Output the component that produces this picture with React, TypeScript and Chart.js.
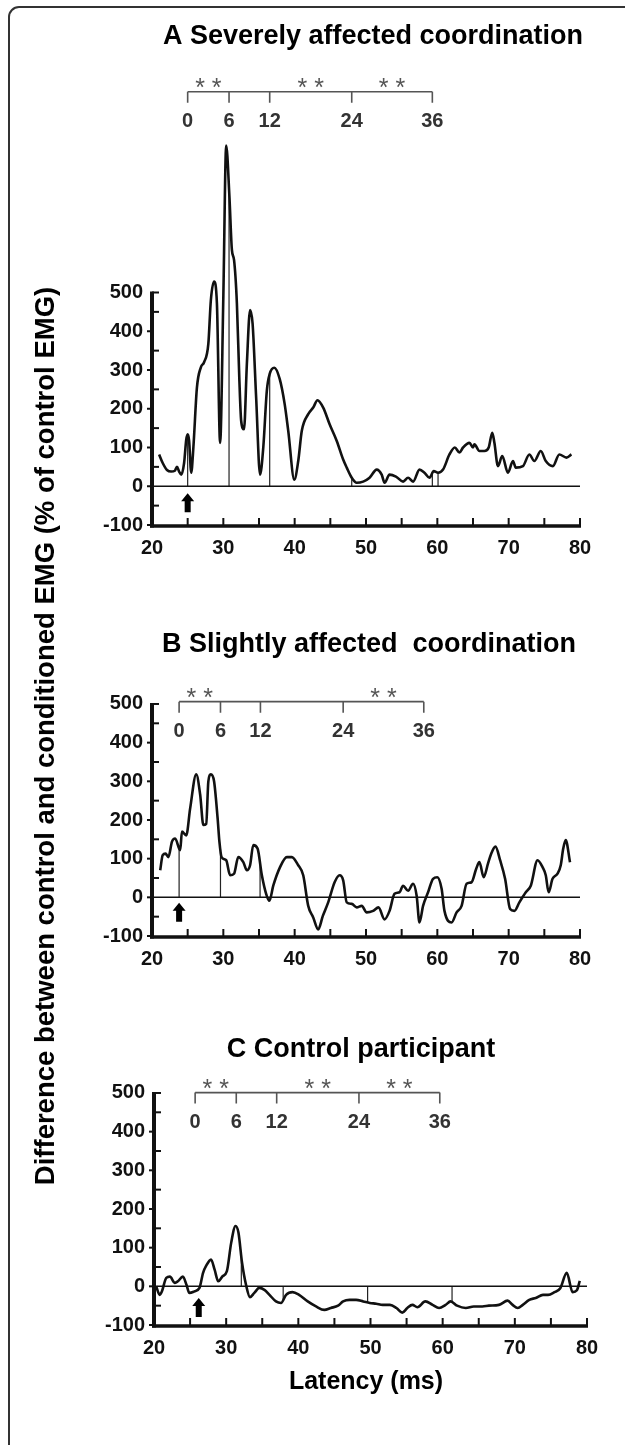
import React, { useEffect, useRef } from "react";
import { Chart, registerables } from "chart.js";

Chart.register(...registerables);

const FONT = '"Liberation Sans", Arial, Helvetica, sans-serif';

// ---- Panel A: severely affected coordination ----
const latencyA = [
  21.0, 21.5, 22.1, 22.7, 23.2, 23.5, 23.8, 24.1, 24.5, 24.8, 25.0, 25.2, 25.5, 25.8, 26.3, 26.85,
  27.3, 27.9, 28.25, 28.7, 29.1, 29.55, 30.0, 30.4, 30.85, 31.2, 31.5, 31.9, 32.25, 32.5, 32.9, 33.3,
  33.75, 34.1, 34.6, 35.15, 35.6, 36.1, 36.5, 37.15, 37.9, 38.6, 39.1, 39.95, 40.5, 41.0, 41.9, 42.6,
  43.2, 44.0, 44.9, 45.9, 46.8, 47.3, 48.0, 48.7, 49.6, 50.5, 51.5, 52.2, 52.6, 53.3, 54.2, 55.2,
  55.9, 56.6, 57.5, 58.2, 58.9, 59.5, 60.1, 60.8, 61.7, 62.45, 63.1, 63.6, 64.5, 65.0, 65.2, 65.9,
  66.6, 67.2, 67.7, 68.0, 68.5, 69.1, 69.9, 70.6, 71.0, 72.0, 72.9, 73.6, 74.5, 75.2, 76.2, 77.1,
  78.1, 78.8,
];
const emgA = [
  82, 60, 42, 38, 40, 50, 38, 30, 60, 120, 134, 118, 35, 100, 255, 307,
  320, 368, 480, 528, 472, 112, 489, 879, 749, 610, 584, 472, 273, 169, 147, 316,
  455, 420, 229, 30, 100, 247, 290, 306, 277, 212, 143, 17, 65, 143, 186, 203,
  222, 203, 160, 117, 69, 48, 22, 9, 12, 22, 43, 30, 9, 30, 25, 12,
  22, 12, 43, 35, 22, 39, 35, 43, 82, 100, 87, 100, 112, 100, 108, 91,
  91, 100, 138, 112, 52, 78, 35, 65, 48, 52, 82, 65, 91, 65, 52, 82,
  74, 82,
];
const markersA = [25.0, 30.8, 36.5, 48.0, 59.3, 60.1];
const windowA = [25.0, 30.8, 36.5, 48.0, 59.3];
const starsA = [[0, 1], [2, 3], [3, 4]];

// ---- Panel B: slightly affected coordination ----
const latencyB = [
  21.15, 21.5, 21.9, 22.3, 22.8, 23.25, 23.95, 24.2, 24.8, 25.35, 26.2, 26.75, 27.2, 27.6, 27.9, 28.25,
  28.7, 29.2, 29.45, 29.75, 30.4, 30.95, 31.5, 32.1, 32.8, 33.3, 33.75, 34.2, 34.8, 35.4, 36.0, 36.45,
  37.0, 37.95, 38.9, 39.6, 40.5, 41.2, 41.9, 42.6, 43.3, 43.95, 44.7, 45.6, 46.3, 46.8, 47.3, 48.0,
  48.7, 49.4, 50.1, 51.0, 51.75, 52.6, 53.3, 54.0, 54.7, 55.2, 55.9, 56.6, 57.1, 57.5, 58.0, 58.7,
  59.4, 60.0, 60.6, 61.0, 62.0, 62.7, 63.4, 64.1, 64.8, 65.45, 65.9, 66.5, 67.1, 67.55, 68.15, 68.8,
  69.5, 70.2, 70.8, 71.5, 72.4, 73.1, 74.05, 74.75, 75.2, 75.6, 76.15, 76.85, 77.3, 77.65, 78.0, 78.6,
];
const emgB = [
  70, 109, 113, 104, 144, 152, 122, 170, 160, 230, 318, 266, 187, 190, 300, 318,
  300, 204, 144, 104, 96, 57, 61, 104, 91, 70, 83, 135, 126, 57, 9, -9,
  30, 78, 104, 104, 83, 57, -22, -52, -83, -48, -13, 39, 57, 44, -13, -17,
  -26, -22, -39, -35, -26, -57, -35, 9, 13, 30, 17, 35, 4, -65, -22, 13,
  48, 52, 22, -35, -65, -39, -22, 35, 39, 74, 91, 52, 87, 113, 131, 96,
  48, -30, -35, -13, 13, 30, 96, 78, 57, 13, 48, 61, 83, 126, 148, 91,
];
const markersB = [23.8, 29.6, 35.15];
const windowB = [23.8, 29.6, 35.2, 46.8, 58.1];
const starsB = [[0, 1], [3, 4]];

// ---- Panel C: control participant ----
const latencyC = [
  20.3, 20.8, 21.1, 21.7, 22.2, 22.9, 23.3, 24.0, 24.5, 24.9, 25.6, 26.3, 26.8, 27.2, 27.9, 28.4,
  28.9, 29.5, 30.1, 30.7, 31.3, 31.7, 32.2, 32.75, 33.3, 33.9, 34.6, 35.3, 36.0, 36.9, 37.6, 38.3,
  39.2, 40.1, 41.3, 42.45, 43.6, 44.5, 45.5, 46.2, 47.1, 48.0, 49.0, 49.9, 50.8, 51.7, 52.7, 53.6,
  54.4, 55.1, 55.8, 56.5, 57.6, 58.6, 59.5, 60.4, 61.1, 62.0, 63.2, 64.3, 65.5, 66.4, 67.8, 69.0,
  69.7, 70.4, 71.1, 72.0, 72.9, 73.9, 74.6, 75.5, 76.3, 77.2, 78.0, 78.6, 79.0,
];
const emgC = [
  0, -22, -13, 22, 25, 9, 13, 25, 4, -17, -13, -4, 35, 52, 69, 43,
  13, 26, 39, 113, 156, 139, 61, 4, -28, -17, -4, -9, -22, -39, -43, -22,
  -15, -22, -39, -52, -61, -56, -50, -39, -35, -35, -39, -43, -45, -48, -48, -56,
  -68, -56, -48, -54, -39, -48, -56, -48, -39, -50, -56, -52, -52, -50, -48, -37,
  -48, -56, -48, -35, -30, -22, -22, -15, -5, 35, -15, -10, 14,
];
const markersC = [32.1, 37.9, 49.6, 61.3];
const windowC = [25.7, 31.4, 37.0, 48.4, 59.6];
const starsC = [[0, 1], [2, 3], [3, 4]];

// ---- shared axis / bracket text ----
const windowLabels = ["0", "6", "12", "24", "36"];
const yTickValues = [-100, 0, 100, 200, 300, 400, 500];
const xTickStep = 10;
const xMin = 20;
const xMax = 80;
const yMin = -100;

type PanelSpec = {
  title: string;
  latency: number[];
  emg: number[];
  markers: number[];
  window: number[];
  stars: number[][];
  arrowAt: number;
  // layout (page pixels)
  top: number;
  height: number;
  plotTop: number;
  plotBottom: number;
  plotLeft: number;
  plotRight: number;
  yMax: number;
  bracketLevel: number;
  arrowTop: number;
  titleX: number;
  titleY: number;
};

const panels: PanelSpec[] = [
  {
    title: "A Severely affected coordination",
    latency: latencyA, emg: emgA, markers: markersA, window: windowA, stars: starsA, arrowAt: 25.0,
    top: 0, height: 578, plotTop: 98.75, plotBottom: 525, plotLeft: 152, plotRight: 580,
    yMax: 1000, bracketLevel: 1018, arrowTop: -18, titleX: 373, titleY: 37,
  },
  {
    title: "B Slightly affected  coordination",
    latency: latencyB, emg: emgB, markers: markersB, window: windowB, stars: starsB, arrowAt: 23.8,
    top: 578, height: 400, plotTop: 665.3, plotBottom: 936, plotLeft: 152, plotRight: 580,
    yMax: 600, bracketLevel: 506, arrowTop: -14, titleX: 369, titleY: 645,
  },
  {
    title: "C Control participant",
    latency: latencyC, emg: emgC, markers: markersC, window: windowC, stars: starsC, arrowAt: 26.2,
    top: 978, height: 467, plotTop: 1054.3, plotBottom: 1325, plotLeft: 154, plotRight: 587,
    yMax: 600, bracketLevel: 501, arrowTop: -30, titleX: 361, titleY: 1050,
  },
];

function valueAt(xs: number[], ys: number[], t: number): number {
  if (t <= xs[0]) return ys[0];
  for (let i = 1; i < xs.length; i++) {
    if (t <= xs[i]) {
      const f = (t - xs[i - 1]) / (xs[i] - xs[i - 1]);
      return ys[i - 1] + f * (ys[i] - ys[i - 1]);
    }
  }
  return ys[ys.length - 1];
}

function decorPlugin(p: PanelSpec) {
  return {
    id: "panelDecor",
    afterDatasetsDraw(chart: any) {
      const { ctx, chartArea: ca } = chart;
      const x = chart.scales.x;
      const y = chart.scales.y;
      const canvasTop = p.top;
      ctx.save();

      // zero reference line
      const y0 = y.getPixelForValue(0);
      ctx.strokeStyle = "#111";
      ctx.lineWidth = 1.5;
      ctx.beginPath();
      ctx.moveTo(ca.left, y0);
      ctx.lineTo(ca.right, y0);
      ctx.stroke();

      // y axis spine (-100 .. 500)
      const yTop = y.getPixelForValue(500);
      const yBot = y.getPixelForValue(-100);
      ctx.lineWidth = 4;
      ctx.beginPath();
      ctx.moveTo(ca.left, yTop - 1);
      ctx.lineTo(ca.left, yBot + 2.5);
      ctx.stroke();

      // y tick marks: half-steps inside, whole steps outside
      ctx.lineWidth = 2;
      for (let v = -100; v <= 500; v += 50) {
        const py = y.getPixelForValue(v);
        ctx.beginPath();
        if (v % 100 !== 0 || v === 500) {
          ctx.moveTo(ca.left, py);
          ctx.lineTo(ca.left + 7, py);
        } else {
          ctx.moveTo(ca.left - 5, py);
          ctx.lineTo(ca.left, py);
        }
        ctx.stroke();
      }

      // x axis spine
      ctx.lineWidth = 3.5;
      ctx.beginPath();
      ctx.moveTo(ca.left - 2, yBot + 1);
      ctx.lineTo(ca.right + 1, yBot + 1);
      ctx.stroke();

      // x tick marks pointing up, every 5 ms
      ctx.lineWidth = 2;
      for (let t = xMin + 5; t <= xMax; t += 5) {
        const px = x.getPixelForValue(t);
        ctx.beginPath();
        ctx.moveTo(px, yBot + 1);
        ctx.lineTo(px, yBot - 7);
        ctx.stroke();
      }

      // stimulus arrow
      const ax = x.getPixelForValue(p.arrowAt);
      const at = y.getPixelForValue(p.arrowTop);
      ctx.fillStyle = "#000";
      ctx.beginPath();
      ctx.moveTo(ax, at);
      ctx.lineTo(ax + 6.5, at + 8);
      ctx.lineTo(ax + 3, at + 8);
      ctx.lineTo(ax + 3, at + 19);
      ctx.lineTo(ax - 3, at + 19);
      ctx.lineTo(ax - 3, at + 8);
      ctx.lineTo(ax - 6.5, at + 8);
      ctx.closePath();
      ctx.fill();

      // analysis window bracket
      const by = y.getPixelForValue(p.bracketLevel);
      const bx = p.window.map((t) => x.getPixelForValue(t));
      ctx.strokeStyle = "#555";
      ctx.lineWidth = 1.6;
      ctx.beginPath();
      ctx.moveTo(bx[0], by);
      ctx.lineTo(bx[bx.length - 1], by);
      bx.forEach((px) => {
        ctx.moveTo(px, by);
        ctx.lineTo(px, by + 11);
      });
      ctx.stroke();

      ctx.fillStyle = "#333";
      ctx.font = `bold 20px ${FONT}`;
      ctx.textAlign = "center";
      ctx.textBaseline = "middle";
      bx.forEach((px, i) => ctx.fillText(windowLabels[i], px, by + 30));

      ctx.fillStyle = "#555";
      ctx.font = `25px ${FONT}`;
      ctx.textBaseline = "alphabetic";
      p.stars.forEach(([a, b]) => {
        const mx = (bx[a] + bx[b]) / 2;
        ctx.fillText("* *", mx, by + 4);
      });

      // panel title
      ctx.fillStyle = "#000";
      ctx.font = `bold 27px ${FONT}`;
      ctx.textBaseline = "middle";
      ctx.fillText(p.title, p.titleX, p.titleY - canvasTop);

      ctx.restore();
    },
  };
}

function Panel({ spec }: { spec: PanelSpec }) {
  const ref = useRef<HTMLCanvasElement | null>(null);

  useEffect(() => {
    const canvas = ref.current;
    if (!canvas) return;
    const p = spec;
    const trace = p.latency.map((t, i) => ({ x: t, y: p.emg[i] }));
    const markerSets = p.markers.map((m) => ({
      data: [
        { x: m, y: 0 },
        { x: m, y: valueAt(p.latency, p.emg, m) },
      ],
      borderColor: "#222",
      borderWidth: 1.2,
      pointRadius: 0,
      tension: 0,
    }));

    const tickFont = { family: FONT, size: 20, weight: "bold" as const };
    const chart = new Chart(canvas, {
      type: "line",
      data: {
        datasets: [
          {
            data: trace,
            borderColor: "#111",
            borderWidth: 2.6,
            pointRadius: 0,
            cubicInterpolationMode: "monotone",
          },
          ...markerSets,
        ] as any,
      },
      options: {
        animation: false,
        responsive: false,
        maintainAspectRatio: false,
        events: [],
        layout: {
          padding: {
            top: p.plotTop - p.top,
            right: 625 - p.plotRight,
            bottom: 0,
            left: 0,
          },
        },
        plugins: {
          legend: { display: false },
          tooltip: { enabled: false },
          title: { display: false },
        },
        scales: {
          x: {
            type: "linear",
            min: xMin,
            max: xMax,
            grid: { display: false, drawTicks: false },
            border: { display: false },
            ticks: { stepSize: xTickStep, font: tickFont, color: "#111", padding: 11, maxRotation: 0 },
            afterFit: (s: any) => {
              s.height = p.top + p.height - p.plotBottom;
            },
          },
          y: {
            type: "linear",
            min: yMin,
            max: p.yMax,
            grid: { display: false, drawTicks: false },
            border: { display: false },
            ticks: { font: tickFont, color: "#111", padding: 9 },
            afterBuildTicks: (s: any) => {
              s.ticks = yTickValues.map((v) => ({ value: v }));
            },
            afterFit: (s: any) => {
              s.width = p.plotLeft;
            },
          },
        },
      },
      plugins: [decorPlugin(p)],
    });
    return () => chart.destroy();
  }, [spec]);

  return (
    <canvas
      ref={ref}
      width={625}
      height={spec.height}
      style={{ position: "absolute", left: 0, top: spec.top, width: 625, height: spec.height }}
    />
  );
}

export default function App() {
  return (
    <div
      style={{
        position: "absolute",
        left: 0,
        top: 0,
        width: 625,
        height: 1445,
        overflow: "hidden",
        background: "#fff",
        fontFamily: FONT,
      }}
    >
      <div
        style={{
          position: "absolute",
          left: 8,
          top: 6,
          width: 660,
          height: 1480,
          border: "2px solid #333",
          borderRadius: 11,
          boxSizing: "border-box",
        }}
      />
      {panels.map((p) => (
        <Panel key={p.title} spec={p} />
      ))}
      <div
        style={{
          position: "absolute",
          left: 45 - 500,
          top: 736 - 16,
          width: 1000,
          height: 32,
          lineHeight: "32px",
          textAlign: "center",
          fontWeight: "bold",
          fontSize: 27.5,
          color: "#000",
          transform: "rotate(-90deg)",
          whiteSpace: "nowrap",
        }}
      >
        Difference between control and conditioned EMG (% of control EMG)
      </div>
      <div
        style={{
          position: "absolute",
          left: 366 - 200,
          top: 1380 - 16,
          width: 400,
          height: 32,
          lineHeight: "32px",
          textAlign: "center",
          fontWeight: "bold",
          fontSize: 25,
          color: "#000",
        }}
      >
        Latency (ms)
      </div>
    </div>
  );
}
